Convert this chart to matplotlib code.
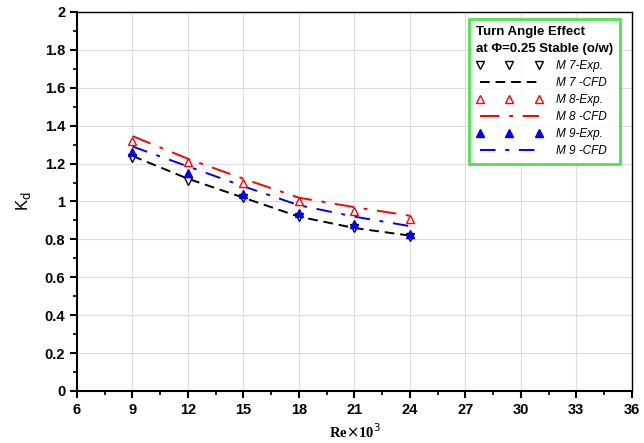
import matplotlib
matplotlib.use('Agg')
import matplotlib.pyplot as plt
from matplotlib.ticker import MultipleLocator

re_vals = [9, 12, 15, 18, 21, 24]

m7_exp = [1.23, 1.11, 1.02, 0.92, 0.86, 0.81]
m7_cfd = [1.24, 1.12, 1.02, 0.92, 0.86, 0.82]
m8_exp = [1.32, 1.21, 1.10, 1.00, 0.95, 0.91]
m8_cfd = [1.345, 1.225, 1.12, 1.02, 0.97, 0.925]
m9_exp = [1.26, 1.15, 1.04, 0.94, 0.88, 0.83]
m9_cfd = [1.29, 1.185, 1.08, 0.98, 0.92, 0.87]

plt.rcParams['font.family'] = ['Liberation Sans', 'DejaVu Sans']

fig = plt.figure(figsize=(6.44, 4.43), dpi=100)
ax = fig.add_axes([0.1196, 0.1174, 0.8614, 0.8556])

ax.plot(re_vals, m7_cfd, color='black', linestyle=(0, (5, 3)), lw=1.4, label='M 7 -CFD', zorder=2)
ax.plot(re_vals, m8_cfd, color='red', linestyle=(0, (10, 5, 2, 5)), lw=1.4, label='M 8 -CFD', zorder=2)
ax.plot(re_vals, m9_cfd, color='blue', linestyle=(0, (8, 5, 2, 5)), lw=1.4, label='M 9 -CFD', zorder=2)

ax.plot(re_vals, m7_exp, linestyle='none', marker='v', ms=5.5, mfc='white', mec='black', mew=1.0, label='M 7-Exp.', zorder=3)
ax.plot(re_vals, m8_exp, linestyle='none', marker='^', ms=5.5, mfc='white', mec='red', mew=1.0, label='M 8-Exp.', zorder=4)
ax.plot(re_vals, m9_exp, linestyle='none', marker='^', ms=5.5, mfc='blue', mec='blue', label='M 9-Exp.', zorder=3)

ax.set_xlim(6, 36)
ax.set_ylim(0, 2)
ax.xaxis.set_major_locator(MultipleLocator(3))
ax.xaxis.set_minor_locator(MultipleLocator(1.5))
ax.yaxis.set_minor_locator(MultipleLocator(0.1))
ax.set_yticks([0, 0.2, 0.4, 0.6, 0.8, 1, 1.2, 1.4, 1.6, 1.8, 2])
ax.set_yticklabels(['0', '0.2', '0.4', '0.6', '0.8', '1', '1.2', '1.4', '1.6', '1.8', '2'])
ax.grid(True, which='major', color='#dddddd', lw=0.8)
ax.set_axisbelow(True)
ax.tick_params(which='major', direction='out', length=5, width=1.5, labelsize=10.5)
ax.tick_params(which='minor', direction='out', length=3, width=1.2)
for lbl in ax.get_xticklabels() + ax.get_yticklabels():
    lbl.set_fontweight('bold')
for s in ['left', 'bottom']:
    ax.spines[s].set_linewidth(1.5)
for s in ['right', 'top']:
    ax.spines[s].set_linewidth(1.0)

ax.set_xlabel(r'Re$\times$10$^{3}$', fontfamily='Liberation Serif', fontweight='bold', fontsize=10.5)
ax.set_ylabel(r'K$_{\rm d}$', fontsize=12, labelpad=8)

h, l = ax.get_legend_handles_labels()
order = [3, 0, 4, 1, 5, 2]
leg = ax.legend([h[i] for i in order], [l[i] for i in order], loc='upper right',
                bbox_to_anchor=(0.99, 0.997), numpoints=3, handlelength=5.6,
                title='Turn Angle Effect\nat \u03a6=0.25 Stable (o/w)',
                prop={'style': 'italic', 'size': 8.5}, fancybox=False,
                frameon=True, borderpad=0.6, labelspacing=0.42, handletextpad=1.2)
leg.get_title().set_fontweight('bold')
leg.get_title().set_fontsize(9.5)
leg.get_title().set_linespacing(1.6)
leg._legend_box.align = 'left'
leg.get_frame().set_edgecolor('#22dd22')
leg.get_frame().set_linewidth(2.0)

fig.savefig('out.png', dpi=100)
